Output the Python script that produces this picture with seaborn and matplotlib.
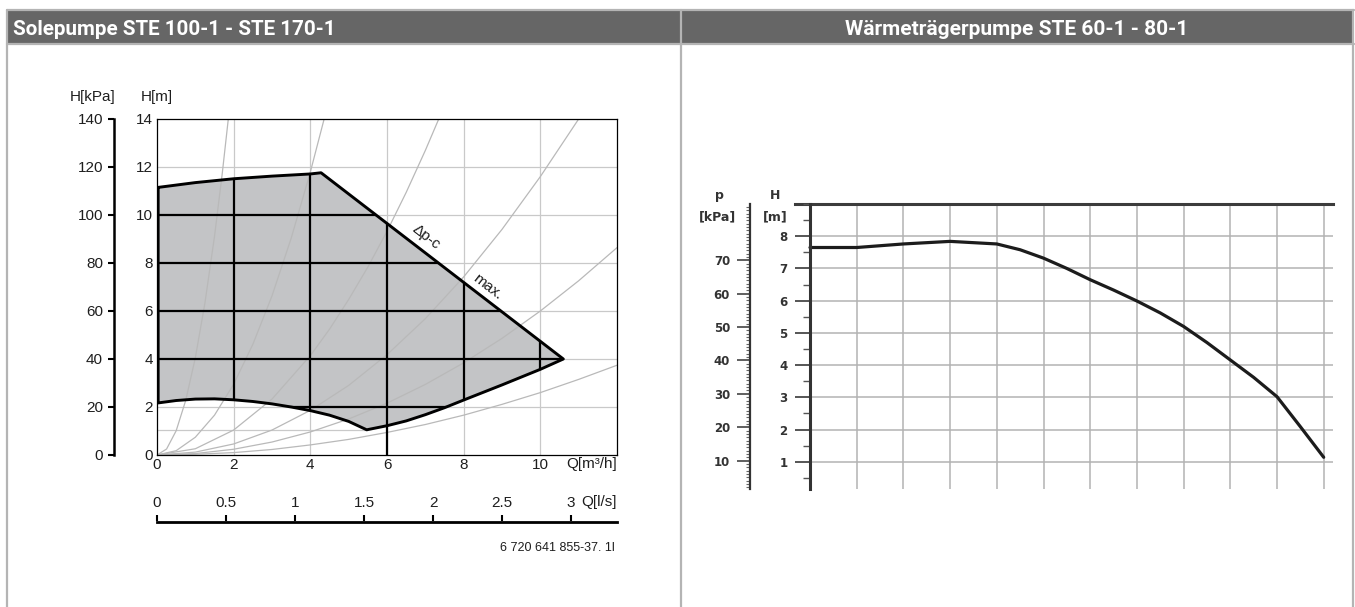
import numpy as np
import matplotlib
matplotlib.use("Agg")
import matplotlib.pyplot as plt
import seaborn as sns
from matplotlib.patches import Rectangle
from matplotlib.lines import Line2D
from matplotlib.transforms import Bbox
from matplotlib.ticker import MultipleLocator, FixedLocator

# ---------------- data ----------------
title_left = "Solepumpe STE 100-1 - STE 170-1"
title_right = "Wärmeträgerpumpe STE 60-1 - 80-1"

# Left: operating field of the brine pump (Q in m³/h, H in m)
field_top_q = [0.03, 1.0, 2.0, 3.0, 4.0, 4.28, 10.6]
field_top_h = [11.15, 11.35, 11.51, 11.62, 11.71, 11.76, 4.0]
field_bot_q = [10.6, 10.0, 9.0, 8.0, 7.5, 7.0, 6.5, 6.0, 5.47, 5.0, 4.5, 4.0, 3.5, 3.0, 2.5, 2.0, 1.5, 1.0, 0.5, 0.03]
field_bot_h = [4.0, 3.57, 2.92, 2.29, 1.97, 1.68, 1.42, 1.22, 1.05, 1.4, 1.66, 1.85, 2.0, 2.13, 2.23, 2.3, 2.34, 2.33, 2.27, 2.17]

# system characteristic guide curves
sysA_q = [0, 0.25, 0.5, 0.75, 1.0, 1.25, 1.5, 1.7, 1.86]
sysA_h = [0, 0.25, 1.01, 2.28, 4.05, 6.33, 9.11, 11.7, 14.0]
sysB_q = [0, 0.5, 1, 1.5, 2, 2.5, 3, 3.5, 4, 4.36]
sysB_h = [0, 0.18, 0.74, 1.66, 2.95, 4.61, 6.63, 9.03, 11.79, 14.0]
sysC_q = [0, 1, 2, 3, 4, 4.5, 5, 5.5, 6, 6.5, 7, 7.35]
sysC_h = [0, 0.26, 1.04, 2.33, 4.14, 5.24, 6.48, 7.83, 9.32, 10.94, 12.69, 14.0]
sysD_q = [0, 1, 2, 3, 4, 5, 6, 7, 8, 9, 10, 11]
sysD_h = [0, 0.12, 0.46, 1.04, 1.86, 2.9, 4.18, 5.68, 7.42, 9.4, 11.6, 14.0]
sysE_q = [0, 1, 2, 3, 4, 5, 6, 7, 8, 9, 10, 11, 12]
sysE_h = [0, 0.06, 0.24, 0.54, 0.96, 1.5, 2.16, 2.94, 3.84, 4.86, 6.0, 7.26, 8.64]
sysF_q = [0, 1, 2, 3, 4, 5, 6, 7, 8, 9, 10, 11, 12]
sysF_h = [0, 0.03, 0.1, 0.23, 0.42, 0.65, 0.94, 1.27, 1.66, 2.11, 2.6, 3.15, 3.74]

left_q_ticks = [0, 2, 4, 6, 8, 10]
left_h_ticks = [0, 2, 4, 6, 8, 10, 12, 14]
left_kpa_ticks = [0, 20, 40, 60, 80, 100, 120, 140]
left_ls_ticks = [0, 0.5, 1, 1.5, 2, 2.5, 3]
left_ls_labels = ["0", "0.5", "1", "1.5", "2", "2.5", "3"]

# Right: heat-transfer pump curve (grid columns, H in m)
right_x = [0, 1, 2, 3, 4, 4.5, 5, 5.5, 6, 6.5, 7, 7.5, 8, 8.5, 9, 9.5, 10, 10.5, 11]
right_h = [7.65, 7.65, 7.76, 7.84, 7.76, 7.58, 7.32, 7.0, 6.65, 6.33, 5.99, 5.62, 5.2, 4.7, 4.16, 3.62, 3.02, 2.09, 1.14]
right_h_ticks = [1, 2, 3, 4, 5, 6, 7, 8]
right_kpa_ticks = [10, 20, 30, 40, 50, 60, 70]
kpa_per_m = 9.65

# ---------------- figure ----------------
sns.set_theme(style="ticks")
plt.rcParams["font.family"] = ["Liberation Sans", "DejaVu Sans"]

W, H = 1355, 607
fig = plt.figure(figsize=(W / 100, H / 100), dpi=100)
fig.patch.set_facecolor("white")


def rect(x0, y0, x1, y1):
    return [x0 / W, 1 - y1 / H, (x1 - x0) / W, (y1 - y0) / H]


def fx(x):
    return x / W


def fy(y):
    return 1 - y / H


# header bar and frame
fig.patches.append(Rectangle((fx(8), fy(43.5)), fx(1353) - fx(8), fy(10.5) - fy(43.5),
                             transform=fig.transFigure, facecolor="#666666", edgecolor="none", zorder=0))
border = "#b4b4b4"
for x0, y0, x1, y1 in [(7, 10, 1354, 10), (7, 44, 1354, 44), (7.5, 10, 7.5, 607),
                       (681, 10, 681, 607), (1353, 10, 1353, 607)]:
    fig.add_artist(Line2D([fx(x0), fx(x1)], [fy(y0), fy(y1)], transform=fig.transFigure,
                          color=border, lw=1.6, zorder=1))

tl = fig.text(fx(13), fy(35), title_left, color="white", fontweight="bold", fontsize=16,
              family=["Roboto", "DejaVu Sans"], ha="left", va="baseline", zorder=3)
tr = fig.text(fx(1017), fy(35), title_right, color="white", fontweight="bold", fontsize=16,
              family=["Roboto", "DejaVu Sans"], ha="center", va="baseline", zorder=3)
fig.canvas.draw()
r = fig.canvas.get_renderer()
for t, target in [(tl, 325), (tr, 343)]:
    w = t.get_window_extent(r).width
    t.set_fontsize(16 * target / w)

# ---------------- left chart ----------------
ink = "#1e1e1e"
ax1 = fig.add_axes(rect(157, 119, 617, 455))
ax1.set_xlim(0, 12)
ax1.set_ylim(0, 14)
ax1.set_xticks(left_q_ticks)
ax1.set_yticks(left_h_ticks)
ax1.tick_params(axis="both", length=0, labelsize=11, colors=ink, pad=3)
ax1.tick_params(axis="x", pad=2.5)
for s in ax1.spines.values():
    s.set_visible(True)
    s.set_color("black")
    s.set_linewidth(0.9)
# light grid
for xv in left_q_ticks[1:]:
    ax1.axvline(xv, color="#c9c9c9", lw=0.9, zorder=0.5)
for hv in left_h_ticks[1:-1]:
    ax1.axhline(hv, color="#c9c9c9", lw=0.9, zorder=0.5)
i_min = int(np.argmin(field_bot_h))
ax1.hlines(field_bot_h[i_min], 0, field_bot_q[i_min], color="#c9c9c9", lw=0.9, zorder=0.5)

poly_q = field_top_q + field_bot_q
poly_h = field_top_h + field_bot_h
patch = ax1.fill(poly_q, poly_h, color="#c3c4c6", lw=0, zorder=1)[0]

for cq, ch in [(sysA_q, sysA_h), (sysB_q, sysB_h), (sysC_q, sysC_h),
               (sysD_q, sysD_h), (sysE_q, sysE_h), (sysF_q, sysF_h)]:
    sns.lineplot(x=cq, y=ch, ax=ax1, color="#b9b9b9", lw=0.9, sort=False, estimator=None, zorder=2)

# black grid inside operating field
for xv in left_q_ticks[1:]:
    ln = ax1.axvline(xv, color="black", lw=1.6, zorder=3)
    ln.set_clip_path(patch)
for hv in left_h_ticks[1:-1]:
    ln = ax1.axhline(hv, color="black", lw=1.6, zorder=3)
    ln.set_clip_path(patch)
bq = field_bot_q[::-1]
bh = field_bot_h[::-1]
ax1.vlines(6, 0, np.interp(6, bq, bh), color="black", lw=1.6, zorder=3)

sns.lineplot(x=poly_q + poly_q[:1], y=poly_h + poly_h[:1], ax=ax1, color="black", lw=2.1,
             sort=False, estimator=None, zorder=4)

ang = -np.degrees(np.arctan((7.76 / 6.32) * (24 / 38.2)))
ax1.text(7.02, 9.08, "Δp-c", rotation=ang, rotation_mode="anchor", ha="center", va="center",
         fontsize=11, color=ink)
ax1.text(8.63, 7.01, "max.", rotation=ang, rotation_mode="anchor", ha="center", va="center",
         fontsize=11, color=ink)

# kPa axis
axK = fig.add_axes(rect(114, 119, 114.5, 455))
axK.set_ylim(0, 140)
axK.set_xticks([])
axK.set_yticks(left_kpa_ticks)
for s in ["top", "right", "bottom"]:
    axK.spines[s].set_visible(False)
axK.spines["left"].set_visible(True)
axK.spines["left"].set_linewidth(1.8)
axK.spines["left"].set_color("black")
axK.patch.set_alpha(0)
axK.tick_params(axis="y", left=True, right=False, direction="out", length=4.5, width=1.5,
                color="black", labelsize=11, labelcolor=ink, pad=3.5)

fig.text(fx(93), fy(97), "H[kPa]", ha="center", va="center", fontsize=11, color=ink)
fig.text(fx(157), fy(97), "H[m]", ha="center", va="center", fontsize=11, color=ink)
fig.text(fx(617), fy(464), "Q[m³/h]", ha="right", va="center", fontsize=11, color=ink)

# l/s axis
axQ = fig.add_axes(rect(157, 521, 617, 522))
axQ.set_xlim(0, 12 / 3.6)
axQ.set_ylim(0, 1)
axQ.set_yticks([])
axQ.set_xticks(left_ls_ticks)
axQ.set_xticklabels(left_ls_labels)
for s in ["top", "right", "left"]:
    axQ.spines[s].set_visible(False)
axQ.spines["bottom"].set_linewidth(2.0)
axQ.spines["bottom"].set_color("black")
axQ.patch.set_alpha(0)
axQ.tick_params(axis="x", which="major", top=True, bottom=False, labeltop=True, labelbottom=False,
                direction="out", length=4, width=1.5, color="black", labelsize=11,
                labelcolor=ink, pad=4)
fig.text(fx(617), fy(502), "Q[l/s]", ha="right", va="center", fontsize=11, color=ink)
fig.text(fx(615), fy(548), "6 720 641 855-37. 1l", ha="right", va="center", fontsize=9, color=ink)

# ---------------- right chart ----------------
dark = "#333333"
px_per_col = 46.7
x0px = 810
ax2 = fig.add_axes(rect(795, 204, 1333, 489))
ax2.set_xlim((795 - x0px) / px_per_col, (1333 - x0px) / px_per_col)
ylo = (494 - 489) / 32.14
ax2.set_ylim(ylo, 9.0)
ax2.set_xticks(range(0, 12))
ax2.set_yticks(right_h_ticks)
ax2.grid(True, color="#b3b3b3", lw=1.1)
ax2.tick_params(length=0, labelleft=False, labelbottom=False)
for s in ["left", "right", "bottom"]:
    ax2.spines[s].set_visible(False)
ax2.spines["top"].set_visible(True)
ax2.spines["top"].set_color("#3c3c3c")
ax2.spines["top"].set_linewidth(2.2)
sns.lineplot(x=right_x, y=right_h, ax=ax2, color="#1c1c1c", lw=2.3, sort=False, estimator=None, zorder=3)

axH = fig.add_axes(rect(810, 204, 810.5, 489))
axH.set_ylim(ylo, 9.0)
axH.set_xticks([])
axH.yaxis.set_major_locator(FixedLocator(right_h_ticks))
axH.yaxis.set_minor_locator(MultipleLocator(0.5))
for s in ["top", "right", "bottom"]:
    axH.spines[s].set_visible(False)
axH.spines["left"].set_visible(True)
axH.spines["left"].set_linewidth(2.2)
axH.spines["left"].set_color(dark)
axH.patch.set_alpha(0)
axH.tick_params(axis="y", which="major", left=True, right=False, direction="out", length=10.8,
                width=1.2, color="#444444", labelsize=8.5, labelcolor=dark, pad=5.5)
axH.tick_params(axis="y", which="minor", left=True, right=False, direction="out", length=5,
                width=1.0, color="#555555")
for lab in axH.get_yticklabels():
    lab.set_fontweight("bold")
    lab.set_family(["DejaVu Sans"])

axP = fig.add_axes(rect(750, 204, 750.5, 489))
axP.set_ylim(ylo * kpa_per_m, 9.0 * kpa_per_m)
axP.set_xticks([])
axP.yaxis.set_major_locator(FixedLocator(right_kpa_ticks))
axP.yaxis.set_minor_locator(MultipleLocator(1))
for s in ["top", "right", "bottom"]:
    axP.spines[s].set_visible(False)
axP.spines["left"].set_visible(True)
axP.spines["left"].set_linewidth(1.6)
axP.spines["left"].set_color(dark)
axP.patch.set_alpha(0)
axP.tick_params(axis="y", which="major", left=True, right=False, direction="out", length=9.4,
                width=1.2, color="#444444", labelsize=8.5, labelcolor=dark, pad=5)
axP.tick_params(axis="y", which="minor", left=True, right=False, direction="out", length=3,
                width=0.8, color="#666666")
for lab in axP.get_yticklabels():
    lab.set_fontweight("bold")
    lab.set_family(["DejaVu Sans"])

for txt, x, y in [("p", 719, 195), ("[kPa]", 717, 217), ("H", 775, 195), ("[m]", 775, 217)]:
    fig.text(fx(x), fy(y), txt, ha="center", va="center", fontsize=9, fontweight="bold",
             color=dark, family=["DejaVu Sans"])

# partially visible zero labels at the cut lower edge
clip = Bbox.from_extents(690, H - 489, 800, H)
for txt, x in [("0", 730), ("0", 787)]:
    t0 = fig.text(fx(x), fy(494), txt, ha="right", va="center", fontsize=8.5, fontweight="bold",
                  color=dark, family=["DejaVu Sans"])
    t0.set_clip_box(clip)
    t0.set_clip_on(True)

fig.savefig("out.png", dpi=100, facecolor="white")
